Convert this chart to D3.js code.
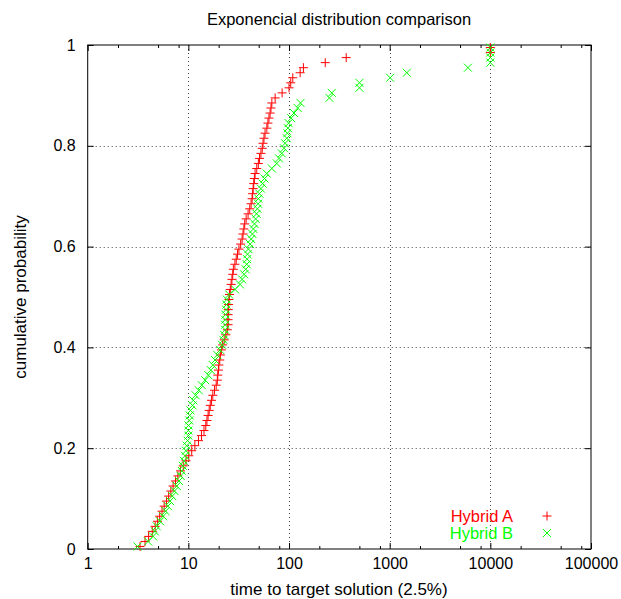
<!DOCTYPE html>
<html>
<head>
<meta charset="utf-8">
<script src="https://cdn.jsdelivr.net/npm/d3@7"></script>
<style>
  body { margin: 0; background: #fff; }
  svg text { font-family: "Liberation Sans", Arial, sans-serif; font-size: 16px; fill: #000; }
</style>
</head>
<body>
<svg id="chart" width="621" height="599"></svg>
<script>
// cumulative probability of the i-th sorted run (100 runs per series)
const probLevels = [
  0.005, 0.015, 0.025, 0.035, 0.045, 0.055, 0.065, 0.075, 0.085, 0.095,
  0.105, 0.115, 0.125, 0.135, 0.145, 0.155, 0.165, 0.175, 0.185, 0.195,
  0.205, 0.215, 0.225, 0.235, 0.245, 0.255, 0.265, 0.275, 0.285, 0.295,
  0.305, 0.315, 0.325, 0.335, 0.345, 0.355, 0.365, 0.375, 0.385, 0.395,
  0.405, 0.415, 0.425, 0.435, 0.445, 0.455, 0.465, 0.475, 0.485, 0.495,
  0.505, 0.515, 0.525, 0.535, 0.545, 0.555, 0.565, 0.575, 0.585, 0.595,
  0.605, 0.615, 0.625, 0.635, 0.645, 0.655, 0.665, 0.675, 0.685, 0.695,
  0.705, 0.715, 0.725, 0.735, 0.745, 0.755, 0.765, 0.775, 0.785, 0.795,
  0.805, 0.815, 0.825, 0.835, 0.845, 0.855, 0.865, 0.875, 0.885, 0.895,
  0.905, 0.915, 0.925, 0.935, 0.945, 0.955, 0.965, 0.975, 0.985, 0.995
];

// sorted times to target
const hybridA = [
  3.31, 3.71, 4.03, 4.38, 4.68, 4.93, 5.19, 5.47, 5.75, 6.06,
  6.37, 6.70, 7.05, 7.45, 7.87, 8.35, 8.90, 9.49, 10.1, 10.8,
  11.6, 12.6, 13.5, 14.3, 14.9, 15.3, 15.7, 16.1, 16.5, 17.0,
  17.5, 18.2, 18.9, 19.4, 19.6, 19.9, 20.1, 20.5, 20.8, 21.3,
  21.9, 22.7, 23.6, 24.4, 24.8, 24.8, 24.8, 24.9, 25.1, 25.3,
  25.6, 26.1, 26.6, 27.1, 27.6, 28.0, 29.0, 29.9, 30.8, 31.8,
  33.1, 34.2, 34.9, 35.6, 36.3, 37.5, 39.2, 40.7, 42.0, 43.0,
  43.5, 44.0, 44.6, 45.3, 46.0, 47.8, 49.6, 50.9, 52.6, 54.2,
  55.2, 56.4, 57.8, 60.2, 61.7, 63.2, 64.9, 66.2, 67.5, 72.8,
  85.4, 100, 104, 109, 129, 139, 229, 370, 10000, 10000
];

const hybridB = [
  3.13, 3.98, 4.46, 4.65, 4.85, 5.23, 5.61, 5.94, 6.26, 6.58,
  6.92, 7.28, 7.67, 8.07, 8.38, 8.60, 8.81, 9.04, 9.27, 9.46,
  9.64, 9.82, 10.0, 10.0, 10.05, 10.2, 10.3, 10.5, 11.0, 11.2,
  11.8, 12.7, 13.6, 14.7, 15.8, 16.7, 17.5, 18.4, 19.4, 20.7,
  21.7, 22.3, 22.7, 23.2, 23.2, 23.2, 23.4, 23.7, 23.9, 24.1,
  25.4, 29.1, 32.6, 34.2, 35.8, 37.1, 38.0, 38.3, 38.7, 39.5,
  41.1, 42.1, 43.3, 44.3, 45.4, 46.6, 47.6, 48.5, 49.3, 49.6,
  50.7, 52.6, 54.7, 57.1, 60.1, 67.5, 75.6, 79.6, 84.7, 89.2,
  91.4, 95.1, 96.2, 97.5, 99.1, 105, 112, 122, 130, 252,
  266, 501, 501, 1010, 1480, 5990, 10000, 10000, 10000, 10000
];

const seriesNames = ["Hybrid A", "Hybrid B"];
const seriesColors = ["#ff0000", "#00ff00"];
const xTicks = [1, 10, 100, 1000, 10000, 100000];
const xMinorSteps = [2, 5, 8];
const yTicks = [0, 0.2, 0.4, 0.6, 0.8, 1];

const plot = { left: 87.7, right: 591, top: 45, bottom: 549 };
const svg = d3.select("#chart");

const x = d3.scaleLog().domain([1, 100000]).range([plot.left, plot.right]);
const y = d3.scaleLinear().domain([0, 1]).range([plot.bottom, plot.top]);

let xMinor = [];
for (let d = 1; d < 100000; d *= 10) {
  xMinorSteps.forEach(s => xMinor.push(d * s));
}

// grid
const grid = svg.append("g").attr("stroke", "#444").attr("stroke-dasharray", "1,3");
xTicks.slice(1, -1).forEach(t => {
  grid.append("line")
    .attr("x1", Math.round(x(t)) + 0.5).attr("x2", Math.round(x(t)) + 0.5)
    .attr("y1", plot.top).attr("y2", plot.bottom);
});
yTicks.slice(1, -1).forEach(t => {
  grid.append("line")
    .attr("x1", plot.left).attr("x2", plot.right)
    .attr("y1", Math.round(y(t)) + 0.5).attr("y2", Math.round(y(t)) + 0.5);
});

// axes (ticks point inward, gnuplot style)
svg.append("g")
  .attr("transform", "translate(0," + plot.bottom + ")")
  .call(d3.axisBottom(x).tickValues(xTicks).tickFormat(d => String(d)).tickSizeInner(-6).tickSizeOuter(0).tickPadding(9));
svg.append("g")
  .attr("transform", "translate(0," + plot.bottom + ")")
  .call(d3.axisBottom(x).tickValues(xMinor).tickFormat("").tickSizeInner(-3).tickSizeOuter(0));
svg.append("g")
  .attr("transform", "translate(0," + plot.top + ")")
  .call(d3.axisTop(x).tickValues(xTicks).tickFormat("").tickSizeInner(-6).tickSizeOuter(0));
svg.append("g")
  .attr("transform", "translate(0," + plot.top + ")")
  .call(d3.axisTop(x).tickValues(xMinor).tickFormat("").tickSizeInner(-3).tickSizeOuter(0));
svg.append("g")
  .attr("transform", "translate(" + plot.left + ",0)")
  .call(d3.axisLeft(y).tickValues(yTicks).tickFormat(d => String(d)).tickSizeInner(-6).tickSizeOuter(0).tickPadding(12));
svg.append("g")
  .attr("transform", "translate(" + plot.right + ",0)")
  .call(d3.axisRight(y).tickValues(yTicks).tickFormat("").tickSizeInner(-6).tickSizeOuter(0));

svg.selectAll(".domain").remove();
svg.selectAll(".tick text").style("font-family", '"Liberation Sans", Arial, sans-serif').style("font-size", "16px");

// border
svg.append("rect")
  .attr("x", plot.left).attr("y", plot.top)
  .attr("width", plot.right - plot.left).attr("height", plot.bottom - plot.top)
  .attr("fill", "none").attr("stroke", "#000");

// markers
const plusPath = "M-4.5,0H4.5M0,-4.5V4.5";
const crossPath = "M-4,-4L4,4M-4,4L4,-4";
const markerPaths = [plusPath, crossPath];

[hybridA, hybridB].forEach((vals, k) => {
  svg.append("g").selectAll("path")
    .data(vals)
    .join("path")
    .attr("d", markerPaths[k])
    .attr("transform", (v, i) => "translate(" + x(v) + "," + y(probLevels[i]) + ")")
    .attr("fill", "none")
    .attr("stroke", seriesColors[k])
    .attr("stroke-width", 1);
});

// legend
seriesNames.forEach((name, k) => {
  const ly = 516 + k * 17;
  svg.append("text")
    .attr("x", 513).attr("y", ly + 5.5)
    .attr("text-anchor", "end")
    .style("font-size", "16.5px")
    .style("fill", seriesColors[k])
    .text(name);
  svg.append("path")
    .attr("d", markerPaths[k])
    .attr("transform", "translate(547," + ly + ")")
    .attr("fill", "none")
    .attr("stroke", seriesColors[k]);
});

// titles
svg.append("text")
  .attr("x", 339).attr("y", 25)
  .attr("text-anchor", "middle")
  .style("font-size", "16.5px")
  .text("Exponencial distribution comparison");
svg.append("text")
  .attr("x", 339).attr("y", 595)
  .attr("text-anchor", "middle")
  .style("font-size", "17px")
  .text("time to target solution (2.5%)");
svg.append("text")
  .attr("transform", "translate(26,297) rotate(-90)")
  .attr("text-anchor", "middle")
  .style("font-size", "17px")
  .text("cumulative probability");
</script>
</body>
</html>
